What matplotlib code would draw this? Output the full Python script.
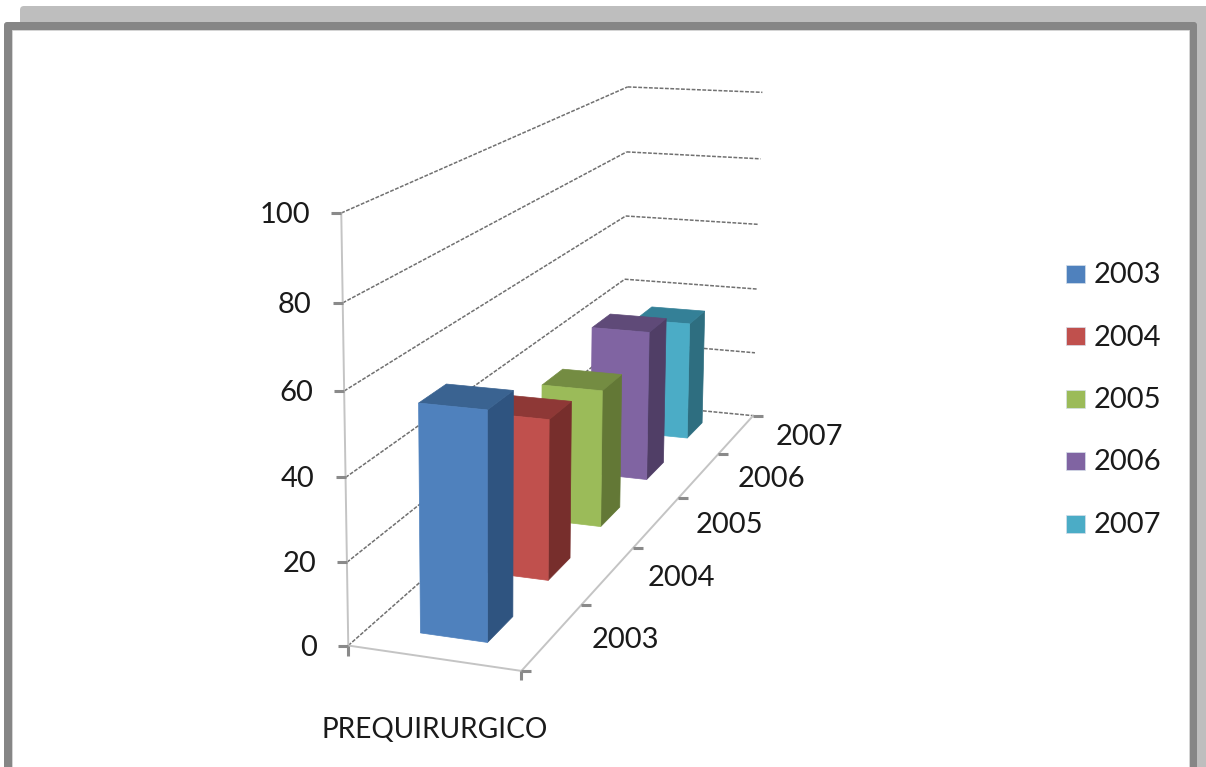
import numpy as np
import matplotlib
matplotlib.use('Agg')
import matplotlib.pyplot as plt
from matplotlib.patches import FancyBboxPatch, Polygon, Rectangle

plt.rcParams['font.family'] = ['Lato', 'DejaVu Sans']

years = ['2003', '2004', '2005', '2006', '2007']
values = [55, 41, 37, 42.5, 35]
value_ticks = [0, 20, 40, 60, 80, 100]
category = 'PREQUIRURGICO'

front_colors = ['#4F81BD', '#C0504D', '#9BBB59', '#8064A2', '#4BACC6']
top_colors = ['#3A6391', '#8E3836', '#748C42', '#5F4A78', '#348097']
side_colors = ['#2F5480', '#772E2C', '#637836', '#503E66', '#2E6E80']

W, H = 1206, 767

# reference points of the plot box: (category, depth, value) -> canvas position
box_xyz = np.array([
    (0, 0, 0), (0, 0, 20), (0, 0, 40), (0, 0, 60), (0, 0, 80), (0, 0, 100),
    (1, 0, 0), (1, 1, 0), (1, 2, 0), (1, 3, 0), (1, 4, 0), (1, 5, 0),
    (1, 5, 20), (1, 5, 100), (0, 5, 100), (0, 5, 60), (0, 5, 40), (0, 5, 0),
], dtype=float)
box_uv = np.array([
    (349, 645), (347, 562), (346, 477), (344, 391), (342, 303), (341, 213),
    (522, 672), (581, 605), (633, 548), (678, 498), (718, 453), (753, 415),
    (756, 353), (762, 93), (628, 87), (626, 215), (625, 279), (622, 405),
], dtype=float)


def fit_camera(xyz, uv):
    # plain DLT, last singular vector gives the 3x4 matrix
    rows = []
    for (x, y, z), (u, v) in zip(xyz, uv):
        rows.append([x, y, z, 1, 0, 0, 0, 0, -u*x, -u*y, -u*z, -u])
        rows.append([0, 0, 0, 0, x, y, z, 1, -v*x, -v*y, -v*z, -v])
    scale = np.array(rows)
    # value axis is in the hundreds, bring columns to a similar size
    d = np.array([1, 1, 100, 1, 1, 1, 100, 1, 1, 1, 100, 1], dtype=float)
    _, _, vt = np.linalg.svd(scale * d)
    return (vt[-1] * d).reshape(3, 4)


P = fit_camera(box_xyz, box_uv)


def proj(x, y, z):
    u, v, w = P @ np.array([x, y, z, 1.0])
    return u / w, v / w


fig = plt.figure(figsize=(W / 100, H / 100), dpi=100)
ax = fig.add_axes([0, 0, 1, 1])
ax.set_xlim(0, W)
ax.set_ylim(H, 0)
ax.axis('off')

# window frame with its shadow behind
ax.add_patch(FancyBboxPatch((23, 9), W, H, boxstyle='round,pad=3,rounding_size=4',
                            fc='#BEBEBE', ec='none', zorder=0))
ax.add_patch(FancyBboxPatch((6, 24), 1189, H, boxstyle='round,pad=2,rounding_size=3',
                            fc='#868686', ec='none', zorder=1))
ax.add_patch(Rectangle((12, 30), 1177, H, fc='white', ec='#D8D8D8', lw=0.6, zorder=2))

grid_kw = dict(color='#707070', lw=1.1, ls=(0, (2.5, 1)), zorder=3)
axis_kw = dict(color='#C4C4C4', lw=1.4, zorder=3)
tick_kw = dict(color='#8A8A8A', lw=2.2, solid_capstyle='butt', zorder=4)


def line3(a, b, **kw):
    pa, pb = proj(*a), proj(*b)
    ax.plot([pa[0], pb[0]], [pa[1], pb[1]], **kw)


# gridlines on the left and back walls
for v in value_ticks:
    line3((0, 0, v), (0, 5, v), **grid_kw)
    line3((0, 5, v), (1, 5, v), **grid_kw)

# axis lines
line3((0, 0, 0), (0, 0, 100), **axis_kw)
line3((0, 0, 0), (1, 0, 0), **axis_kw)
line3((1, 0, 0), (1, 5, 0), **axis_kw)

# value ticks and labels
for v in value_ticks:
    u0, v0 = proj(0, 0, v)
    ax.plot([u0 - 10, u0], [v0, v0], **tick_kw)
    ax.text(u0 - 31, v0 + 2, str(v), ha='right', va='center', fontsize=21,
            color='#1A1A1A', zorder=5)
u0, v0 = proj(0, 0, 0)
ax.plot([u0, u0], [v0, v0 + 10], **tick_kw)

# depth ticks and series labels
for i in range(len(years) + 1):
    u0, v0 = proj(1, i, 0)
    ax.plot([u0, u0 + 10], [v0, v0], **tick_kw)
u0, v0 = proj(1, 0, 0)
ax.plot([u0, u0], [v0, v0 + 9], **tick_kw)
for i, year in enumerate(years):
    u0, v0 = proj(1, i + 0.5, 0)
    ax.text(u0 + 73, v0 + 3, year, ha='center', va='center', fontsize=21,
            color='#1A1A1A', zorder=5)

u0, v0 = proj(0.5, 0, 0)
ax.text(u0 + 1, v0 + 72, category, ha='center', va='center', fontsize=20.2,
        color='#1A1A1A', zorder=5)

# bars, back to front
bar_x0, bar_x1 = 0.30, 0.695
bar_d0, bar_d1 = 0.3, 0.7


def face(points, color, z):
    ax.add_patch(Polygon([proj(*p) for p in points], closed=True, fc=color,
                         ec=color, lw=0.5, zorder=z))


for i in reversed(range(len(years))):
    h = values[i]
    d0, d1 = i + bar_d0, i + bar_d1
    z = 10 + (len(years) - i)
    face([(bar_x1, d0, 0), (bar_x1, d1, 0), (bar_x1, d1, h), (bar_x1, d0, h)], side_colors[i], z)
    face([(bar_x0, d0, h), (bar_x1, d0, h), (bar_x1, d1, h), (bar_x0, d1, h)], top_colors[i], z)
    face([(bar_x0, d0, 0), (bar_x1, d0, 0), (bar_x1, d0, h), (bar_x0, d0, h)], front_colors[i], z)

# legend
legend_rows = [273.5, 336, 398.5, 461, 523.5]
for year, color, y in zip(years, front_colors, legend_rows):
    ax.add_patch(Rectangle((1066, y - 9), 19, 18, fc=color, ec='#D5DFEA', lw=0.5, zorder=5))
    ax.text(1094, y + 1.5, year, ha='left', va='center', fontsize=21, color='#1A1A1A', zorder=5)

fig.savefig('out.png', dpi=100)
